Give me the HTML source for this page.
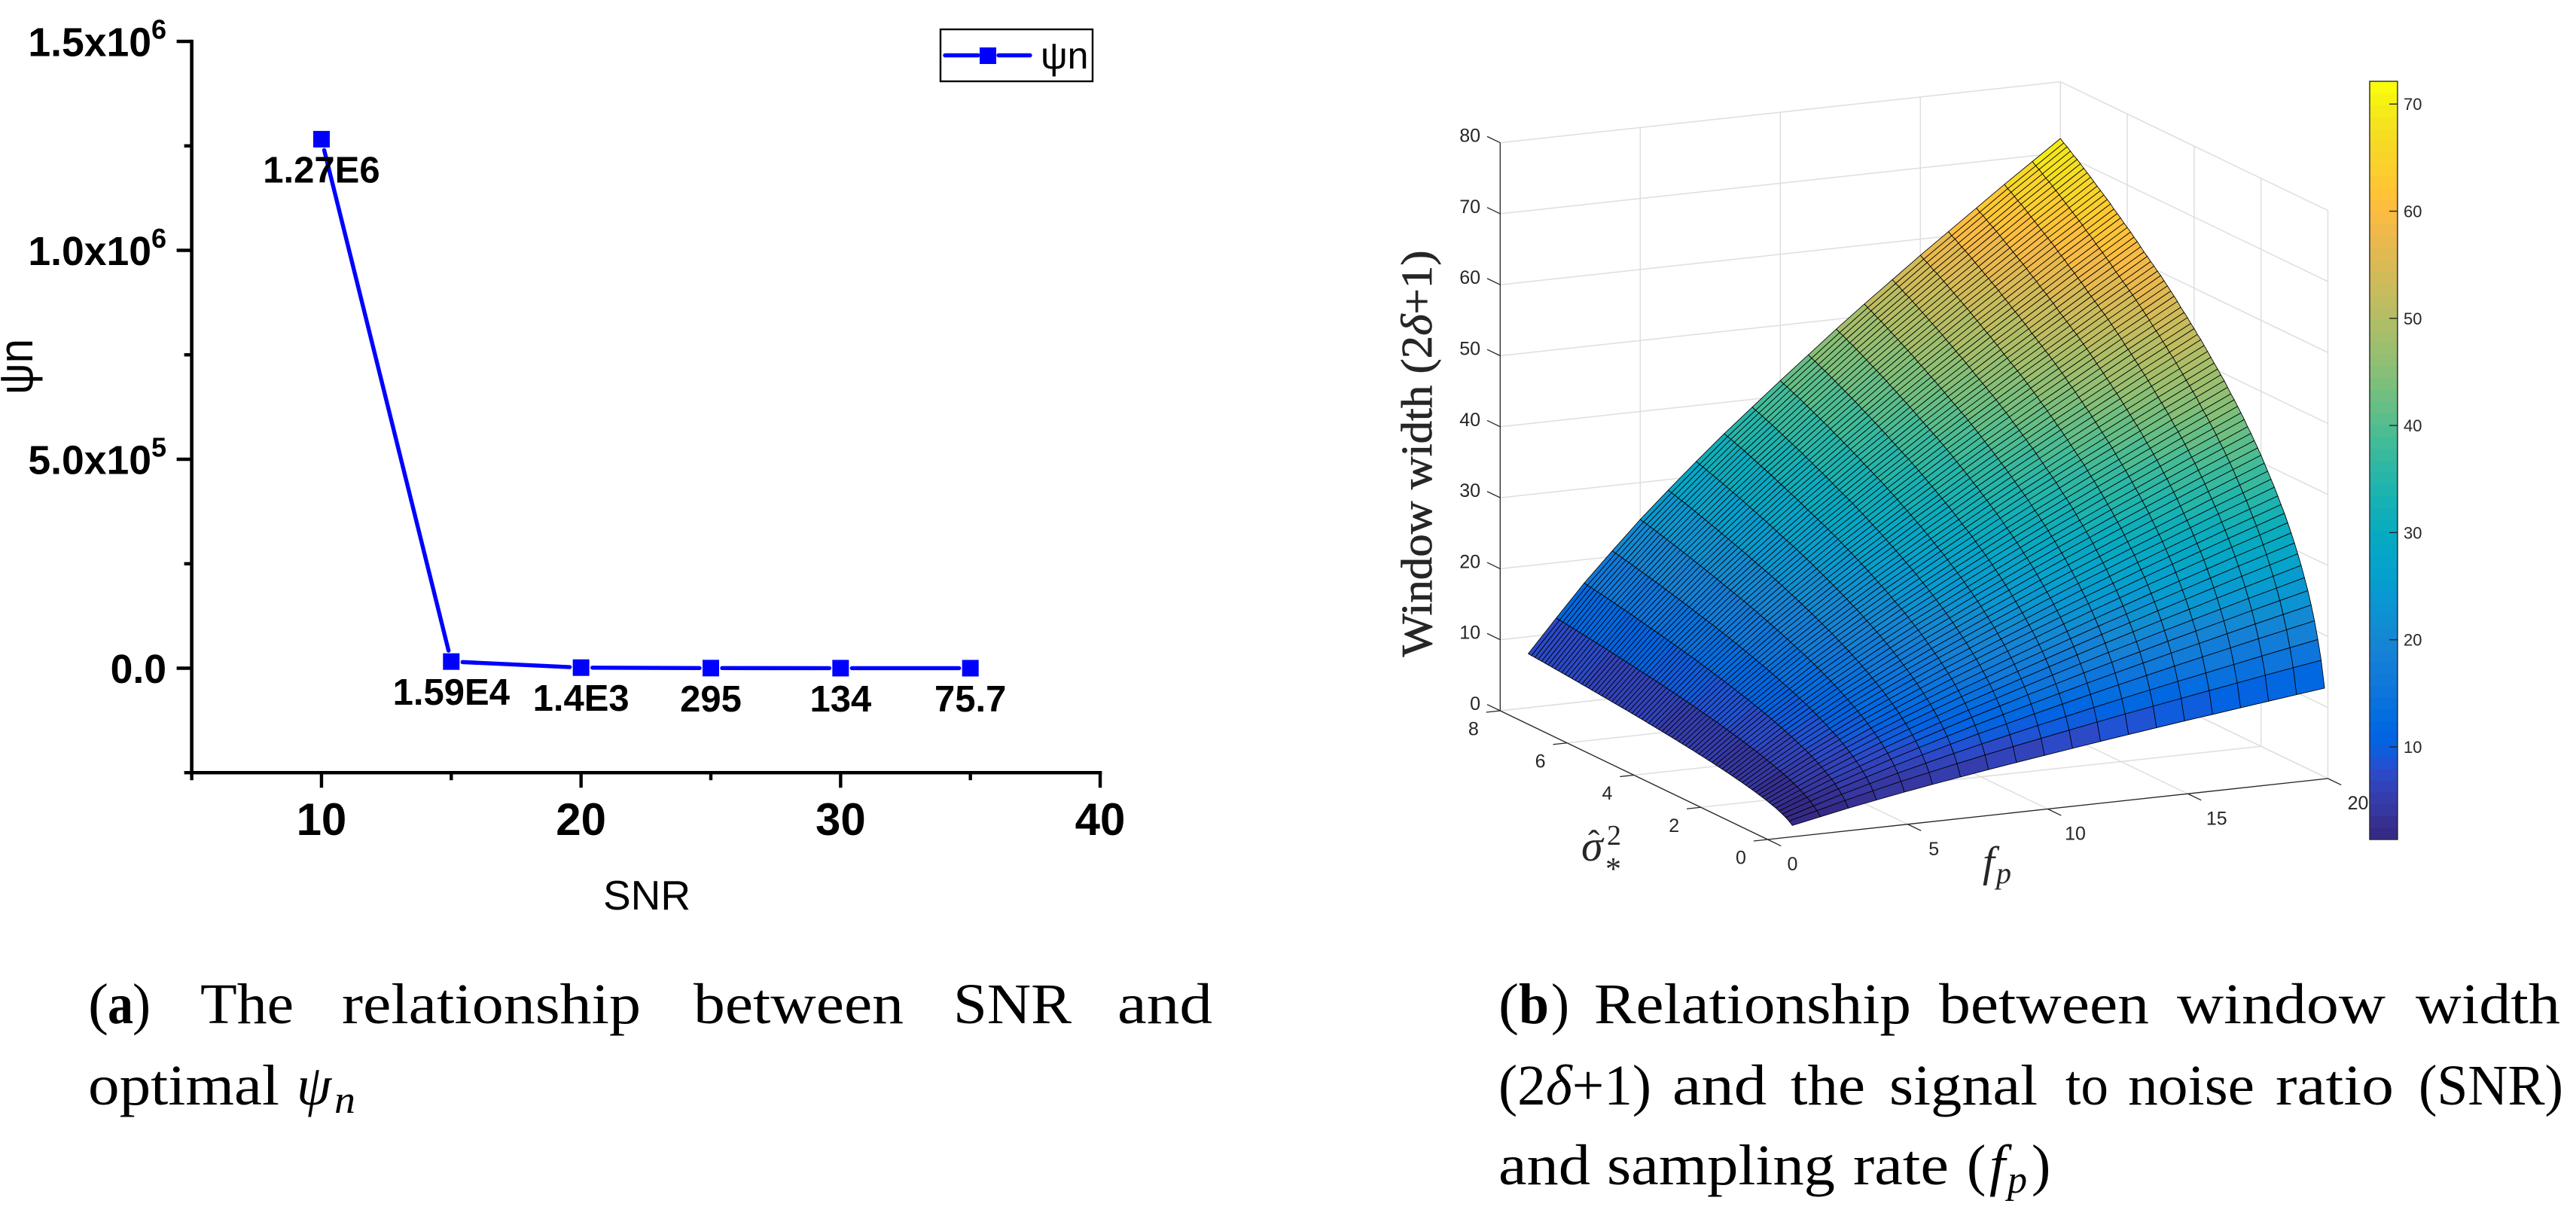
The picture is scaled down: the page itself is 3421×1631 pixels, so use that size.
<!DOCTYPE html>
<html lang="en">
<head>
<meta charset="utf-8">
<title>SNR and window width figures</title>
<style>
html,body{margin:0;padding:0;background:#fff;width:3421px;height:1631px;overflow:hidden}
svg{display:block}
.sans{font-family:"Liberation Sans",sans-serif}
.serif{font-family:"Liberation Serif",serif;font-size:76px;fill:#000}
</style>
</head>
<body>
<svg id="figure" xmlns="http://www.w3.org/2000/svg" width="3421" height="1631" viewBox="0 0 3421 1631">
<rect x="0" y="0" width="3421" height="1631" fill="#fff"/>
<g id="chartA"></g>
<g id="chartB"></g>

<g class="serif">
<text x="117" y="1359" textLength="27" lengthAdjust="spacingAndGlyphs">(</text>
<text x="143" y="1359" font-weight="bold" textLength="34" lengthAdjust="spacingAndGlyphs">a</text>
<text x="176" y="1359" textLength="24" lengthAdjust="spacingAndGlyphs">)</text>
<text x="266" y="1359" textLength="124" lengthAdjust="spacingAndGlyphs">The</text>
<text x="454" y="1359" textLength="397" lengthAdjust="spacingAndGlyphs">relationship</text>
<text x="921" y="1359" textLength="279" lengthAdjust="spacingAndGlyphs">between</text>
<text x="1266" y="1359" textLength="157" lengthAdjust="spacingAndGlyphs">SNR</text>
<text x="1484" y="1359" textLength="126" lengthAdjust="spacingAndGlyphs">and</text>
<text x="117" y="1467" textLength="254" lengthAdjust="spacingAndGlyphs">optimal</text>
<text x="394" y="1467" font-style="italic" textLength="46" lengthAdjust="spacingAndGlyphs">ψ</text>
<text x="444" y="1478" font-style="italic" font-size="52" textLength="28" lengthAdjust="spacingAndGlyphs">n</text>
</g>

<g class="serif">
<text x="1990" y="1359" textLength="27" lengthAdjust="spacingAndGlyphs">(</text>
<text x="2017" y="1359" font-weight="bold" textLength="40" lengthAdjust="spacingAndGlyphs">b</text>
<text x="2060" y="1359" textLength="24" lengthAdjust="spacingAndGlyphs">)</text>
<text x="2117" y="1359" textLength="421" lengthAdjust="spacingAndGlyphs">Relationship</text>
<text x="2575" y="1359" textLength="279" lengthAdjust="spacingAndGlyphs">between</text>
<text x="2891" y="1359" textLength="277" lengthAdjust="spacingAndGlyphs">window</text>
<text x="3208" y="1359" textLength="192" lengthAdjust="spacingAndGlyphs">width</text>
<text x="1990" y="1467" textLength="203" lengthAdjust="spacingAndGlyphs">(2<tspan font-style="italic">δ</tspan>+1)</text>
<text x="2221" y="1467" textLength="125" lengthAdjust="spacingAndGlyphs">and</text>
<text x="2378" y="1467" textLength="99" lengthAdjust="spacingAndGlyphs">the</text>
<text x="2509" y="1467" textLength="197" lengthAdjust="spacingAndGlyphs">signal</text>
<text x="2743" y="1467" textLength="57" lengthAdjust="spacingAndGlyphs">to</text>
<text x="2826" y="1467" textLength="168" lengthAdjust="spacingAndGlyphs">noise</text>
<text x="3022" y="1467" textLength="157" lengthAdjust="spacingAndGlyphs">ratio</text>
<text x="3212" y="1467" textLength="192" lengthAdjust="spacingAndGlyphs">(SNR)</text>
<text x="1990" y="1573" textLength="122" lengthAdjust="spacingAndGlyphs">and</text>
<text x="2134" y="1573" textLength="303" lengthAdjust="spacingAndGlyphs">sampling</text>
<text x="2461" y="1573" textLength="127" lengthAdjust="spacingAndGlyphs">rate</text>
<text x="2612" y="1573">(</text>
<text x="2642" y="1573" font-style="italic">f</text>
<text x="2666" y="1584" font-style="italic" font-size="52">p</text>
<text x="2698" y="1573">)</text>
</g>
</svg>

<script>
// ---------- Chart (a) data ----------
const snrValues = [10, 15, 20, 25, 30, 35];
const psiValues = [1266000, 15900, 1400, 295, 134, 75.7];
const psiLabels = ['1.27E6', '1.59E4', '1.4E3', '295', '134', '75.7'];
const xMajorTicks = [10, 20, 30, 40];
const xMinorTicks = [5, 15, 25, 35];
const yMajorTicks = [1500000, 1000000, 500000, 0];
const yMinorTicks = [1250000, 750000, 250000, -250000];
const yTickMantissas = ['1.5x10', '1.0x10', '5.0x10', '0.0'];
const yTickExponents = ['6', '6', '5', ''];

// ---------- Chart (b) data ----------
const fpValues = [1,2,3,4,5,6,7,8,9,10,11,12,13,14,15,16,17,18,19,20];
const sigmaValues = [0.1,0.2,0.3,0.4,0.5,0.6,0.7,0.8,0.9,1.0,1.1,1.2,1.3,1.4,1.5,1.6,1.7,1.8,1.9,2.0,
 2.1,2.2,2.3,2.4,2.5,2.6,2.7,2.8,2.9,3.0,3.1,3.2,3.3,3.4,3.5,3.6,3.7,3.8,3.9,4.0,
 4.1,4.2,4.3,4.4,4.5,4.6,4.7,4.8,4.9,5.0,5.1,5.2,5.3,5.4,5.5,5.6,5.7,5.8,5.9,6.0,
 6.1,6.2,6.3,6.4,6.5,6.6,6.7,6.8,6.9,7.0,7.1,7.2,7.3,7.4,7.5,7.6,7.7,7.8,7.9,8.0];
// window width read along the sigma = 8 edge of the surface, one per fp value
const widthAlongFp = [7.6,12.2,16.7,20.8,24.8,28.5,32.1,35.6,38.9,42.2,45.4,48.6,51.7,54.7,57.7,60.6,63.5,66.4,69.2,72.0];
// window width read along the fp = 20 edge of the surface, one per sigma value
const widthAlongSigma = [12.5,16.2,18.9,21.3,23.3,25.1,26.7,28.2,29.6,30.9,32.1,33.3,34.4,35.4,36.4,37.4,38.3,39.2,40.1,41.0,
 41.8,42.6,43.4,44.1,44.9,45.6,46.3,47.0,47.6,48.3,49.0,49.6,50.2,50.8,51.4,52.0,52.6,53.2,53.7,54.3,
 54.8,55.4,55.9,56.4,57.0,57.5,58.0,58.5,59.0,59.5,59.9,60.4,60.8,61.3,61.7,62.2,62.7,63.1,63.6,64.0,
 64.4,64.9,65.3,65.7,66.2,66.6,67.0,67.4,67.8,68.2,68.6,69.0,69.4,69.8,70.2,70.5,70.9,71.3,71.6,72.0];
const fpTicks = [0, 5, 10, 15, 20];
const sigmaTicks = [0, 2, 4, 6, 8];
const zTicks = [0, 10, 20, 30, 40, 50, 60, 70, 80];
const colorbarTicks = [10, 20, 30, 40, 50, 60, 70];
const colorMin = 1.4;
const colorMax = 72.1;
const parula = [
[.2081,.1663,.5292],[.2116,.1898,.5777],[.2123,.2138,.6270],[.2081,.2386,.6771],[.1959,.2645,.7279],[.1707,.2919,.7792],[.1253,.3242,.8303],[.0591,.3598,.8683],
[.0117,.3875,.8820],[.0060,.4086,.8828],[.0165,.4266,.8786],[.0329,.4430,.8720],[.0498,.4586,.8641],[.0629,.4737,.8554],[.0723,.4887,.8467],[.0779,.5040,.8384],
[.0793,.5200,.8312],[.0749,.5375,.8263],[.0641,.5570,.8240],[.0488,.5772,.8228],[.0343,.5966,.8199],[.0265,.6137,.8135],[.0239,.6287,.8038],[.0231,.6418,.7913],
[.0228,.6535,.7768],[.0267,.6642,.7607],[.0384,.6743,.7436],[.0590,.6838,.7254],[.0843,.6928,.7062],[.1133,.7015,.6859],[.1453,.7098,.6646],[.1801,.7177,.6424],
[.2178,.7250,.6193],[.2586,.7317,.5954],[.3022,.7376,.5712],[.3482,.7424,.5473],[.3953,.7459,.5244],[.4420,.7481,.5033],[.4871,.7491,.4840],[.5300,.7491,.4661],
[.5709,.7485,.4494],[.6099,.7473,.4337],[.6473,.7456,.4188],[.6834,.7435,.4044],[.7184,.7411,.3905],[.7525,.7384,.3768],[.7858,.7356,.3633],[.8185,.7327,.3498],
[.8507,.7299,.3360],[.8824,.7274,.3217],[.9139,.7258,.3063],[.9450,.7261,.2886],[.9739,.7314,.2666],[.9938,.7455,.2403],[.9990,.7653,.2164],[.9955,.7861,.1967],
[.9880,.8066,.1794],[.9789,.8271,.1633],[.9697,.8481,.1475],[.9626,.8705,.1309],[.9589,.8949,.1132],[.9598,.9218,.0948],[.9661,.9514,.0755],[.9763,.9831,.0538]];

const NS = 'http://www.w3.org/2000/svg';
function make(parent, tag, props, txt) {
  const n = document.createElementNS(NS, tag);
  for (const k in props) n.setAttribute(k, props[k]);
  if (txt !== undefined) n.textContent = txt;
  parent.appendChild(n);
  return n;
}

// ---------- Chart (a) drawing ----------
(function () {
  const root = document.getElementById('chartA');
  const xA = v => 254.6 + (v - 5) * 34.47;
  const yA = v => 887.5 - v * 0.000555;
  const xLeft = xA(5), xRight = xA(40), yBottom = yA(-250000), yTop = yA(1500000);

  let el = make(root, 'line', {x1: xLeft, y1: yTop - 2.3, x2: xLeft, y2: yBottom + 2.3, stroke: '#000', 'stroke-width': 4.6});
  
  
  el = make(root, 'line', {x1: xLeft - 2.3, y1: yBottom, x2: xRight + 2.3, y2: yBottom, stroke: '#000', 'stroke-width': 4.6});
  
  

  yMajorTicks.forEach((v, i) => {
    const t = make(root, 'line', {x1: xLeft, y1: yA(v), x2: xLeft - 20, y2: yA(v), stroke: '#000', 'stroke-width': 4.4});
    
    
    const lab = make(root, 'text', {x: 221, y: yA(v) + 19.5, 'text-anchor': 'end', class: 'sans', 'font-size': 53.5, 'font-weight': 'bold', fill: '#000'}, yTickMantissas[i]);
    
    
    if (yTickExponents[i]) {
      const sup = make(lab, 'tspan', {dy: -23, 'font-size': 36}, yTickExponents[i]);
      
      
    }
  });
  yMinorTicks.forEach(v => {
    const t = make(root, 'line', {x1: xLeft, y1: yA(v), x2: xLeft - 10, y2: yA(v), stroke: '#000', 'stroke-width': 4.4});
    
    
  });
  xMajorTicks.forEach(v => {
    const t = make(root, 'line', {x1: xA(v), y1: yBottom, x2: xA(v), y2: yBottom + 20, stroke: '#000', 'stroke-width': 4.4});
    
    
    const lab = make(root, 'text', {x: xA(v), y: 1109, 'text-anchor': 'middle', class: 'sans', 'font-size': 60, 'font-weight': 'bold', fill: '#000'}, String(v));
    
    
  });
  xMinorTicks.forEach(v => {
    const t = make(root, 'line', {x1: xA(v), y1: yBottom, x2: xA(v), y2: yBottom + 10, stroke: '#000', 'stroke-width': 4.4});
    
    
  });

  el = make(root, 'text', {x: 859, y: 1208, 'text-anchor': 'middle', class: 'sans', 'font-size': 55, fill: '#000'}, 'SNR');
  
  
  el = make(root, 'text', {x: 0, y: 0, transform: 'translate(43,487) rotate(-90)', 'text-anchor': 'middle', class: 'sans', 'font-size': 64, fill: '#000', textLength: 74, lengthAdjust: 'spacingAndGlyphs'}, 'ψn');
  
  

  // series segments, trimmed near each marker
  const gap = 15;
  for (let i = 0; i + 1 < snrValues.length; i++) {
    const x1 = xA(snrValues[i]), y1 = yA(psiValues[i]), x2 = xA(snrValues[i + 1]), y2 = yA(psiValues[i + 1]);
    const d = Math.hypot(x2 - x1, y2 - y1), ux = (x2 - x1) / d, uy = (y2 - y1) / d;
    const seg = make(root, 'line', {x1: x1 + ux * gap, y1: y1 + uy * gap, x2: x2 - ux * gap, y2: y2 - uy * gap, stroke: '#0000ff', 'stroke-width': 5.4, 'stroke-linecap': 'round'});
    
    
  }
  snrValues.forEach((s, i) => {
    const m = make(root, 'rect', {x: xA(s) - 11, y: yA(psiValues[i]) - 11, width: 22, height: 22, fill: '#0000ff'});
    
    
  });
  snrValues.forEach((s, i) => {
    const lab = make(root, 'text', {x: xA(s), y: yA(psiValues[i]) + 57.5, 'text-anchor': 'middle', class: 'sans', 'font-size': 49, 'font-weight': 'bold', fill: '#000'}, psiLabels[i]);
    
    
  });

  // legend
  const lg = make(root, 'g', {});
  
  
  el = make(lg, 'rect', {x: 1249, y: 39, width: 202, height: 69, fill: '#fff', stroke: '#000', 'stroke-width': 2.4});
  
  
  el = make(lg, 'line', {x1: 1255, y1: 73.5, x2: 1299, y2: 73.5, stroke: '#0000ff', 'stroke-width': 5.4, 'stroke-linecap': 'round'});
  
  
  el = make(lg, 'line', {x1: 1326, y1: 73.5, x2: 1368, y2: 73.5, stroke: '#0000ff', 'stroke-width': 5.4, 'stroke-linecap': 'round'});
  
  
  el = make(lg, 'rect', {x: 1301, y: 63, width: 22, height: 22, fill: '#0000ff'});
  
  
  el = make(lg, 'text', {x: 1382, y: 91, class: 'sans', 'font-size': 50, fill: '#000'}, 'ψn');
  
  
})();

// ---------- Chart (b) drawing ----------
(function () {
  const root = document.getElementById('chartB');
  const ink = '#262626', gridInk = '#dedede';
  // orthographic projection of (fp, sigma, z) to the page
  const px = (f, s) => 2347.5 + f * 37.2 - s * 44.4;
  const py = (f, s, z) => 1115 - f * 4.05 - s * 21.375 - z * 9.43;
  const fpMax = 20, sMax = 8, zMax = 80;

  function seg(a, b, color, w) {
    return make(root, 'line', {x1: px(a[0], a[1]), y1: py(a[0], a[1], a[2]), x2: px(b[0], b[1]), y2: py(b[0], b[1], b[2]), stroke: color, 'stroke-width': w});
  }

  zTicks.forEach(z => {
    let g = seg([0, sMax, z], [fpMax, sMax, z], gridInk, 1.5);
    
    
    g = seg([fpMax, sMax, z], [fpMax, 0, z], gridInk, 1.5);
    
    
  });
  fpTicks.forEach(f => {
    let g = seg([f, sMax, 0], [f, sMax, zMax], gridInk, 1.5);
    
    
    g = seg([f, 0, 0], [f, sMax, 0], gridInk, 1.5);
    
    
  });
  sigmaTicks.forEach(s => {
    let g = seg([fpMax, s, 0], [fpMax, s, zMax], gridInk, 1.5);
    
    
    g = seg([0, s, 0], [fpMax, s, 0], gridInk, 1.5);
    
    
  });

  // axes
  let a = seg([0, 0, 0], [fpMax, 0, 0], ink, 1.3);
  
  
  a = seg([0, 0, 0], [0, sMax, 0], ink, 1.3);
  
  
  a = seg([0, sMax, 0], [0, sMax, zMax], ink, 1.3);
  
  

  const tickFont = {class: 'sans', 'font-size': 25, fill: ink};
  zTicks.forEach(z => {
    const t = seg([0, sMax, z], [0, sMax + 0.39, z], ink, 1.3);
    
    
    const lab = make(root, 'text', Object.assign({x: 1966, y: py(0, sMax, z) - 1, 'text-anchor': 'end'}, tickFont), String(z));
    
    
  });
  sigmaTicks.forEach(s => {
    const t = seg([0, s, 0], [-0.5, s, 0], ink, 1.3);
    
    
    const lab = make(root, 'text', Object.assign({x: px(0, s) - 35.5, y: py(0, s, 0) + 32.5, 'text-anchor': 'middle'}, tickFont), String(s));
    
    
  });
  fpTicks.forEach(f => {
    const t = seg([f, 0, 0], [f, -0.4, 0], ink, 1.3);
    
    
    const lab = make(root, 'text', Object.assign({x: px(f, 0) + 33 + f * 0.35, y: py(f, 0, 0) + 41, 'text-anchor': 'middle'}, tickFont), String(f));
    
    
  });

  // surface, painted from far to near
  const peak = widthAlongFp[widthAlongFp.length - 1];
  const zAt = (i, j) => widthAlongFp[i] * widthAlongSigma[j] / peak;
  const colorFor = z => {
    const k = Math.max(0, Math.min(parula.length - 1, Math.floor((z - colorMin) / (colorMax - colorMin) * parula.length)));
    const c = parula[k];
    return 'rgb(' + Math.round(c[0] * 255) + ',' + Math.round(c[1] * 255) + ',' + Math.round(c[2] * 255) + ')';
  };
  const surface = make(root, 'g', {stroke: '#000', 'stroke-width': 0.85, 'stroke-linejoin': 'round'});
  
  
  for (let i = fpValues.length - 2; i >= 0; i--) {
    for (let j = sigmaValues.length - 2; j >= 0; j--) {
      const corners = [[i, j], [i + 1, j], [i + 1, j + 1], [i, j + 1]];
      const pts = corners.map(c => {
        const f = fpValues[c[0]], s = sigmaValues[c[1]];
        return px(f, s).toFixed(1) + ',' + py(f, s, zAt(c[0], c[1])).toFixed(1);
      }).join(' ');
      const cell = make(surface, 'polygon', {points: pts, fill: colorFor(zAt(i, j))});
      
      
    }
  }

  // axis titles
  let t = make(root, 'text', {x: 0, y: 0, transform: 'translate(1901,602.5) rotate(-90)', 'text-anchor': 'middle', 'font-family': '"Liberation Serif",serif', 'font-size': 58, fill: ink, stroke: ink, 'stroke-width': 0.7, textLength: 540, lengthAdjust: 'spacingAndGlyphs'});
  
  
  t.appendChild(document.createTextNode('Window width (2'));
  const delta = make(t, 'tspan', {'font-style': 'italic'}, 'δ');
  
  
  t.appendChild(document.createTextNode('+1)'));

  const serif = {'font-family': '"Liberation Serif",serif', fill: ink};
  t = make(root, 'text', Object.assign({x: 2100, y: 1143, 'font-style': 'italic', 'font-size': 58}, serif), 'σ');
  
  
  t = make(root, 'text', Object.assign({x: 2109, y: 1134, 'font-size': 46}, serif), 'ˆ');
  
  
  t = make(root, 'text', Object.assign({x: 2134, y: 1122, 'font-size': 38}, serif), '2');
  
  
  t = make(root, 'text', Object.assign({x: 2132, y: 1168, 'font-size': 42}, serif), '*');
  
  
  t = make(root, 'text', Object.assign({x: 2633, y: 1164, 'font-style': 'italic', 'font-size': 57}, serif), 'f');
  
  
  t = make(root, 'text', Object.assign({x: 2651, y: 1173, 'font-style': 'italic', 'font-size': 40}, serif), 'p');
  
  

  // colorbar
  const cbLeft = 3147, cbRight = 3184, cbTop = 108, cbBottom = 1115;
  const yC = v => 992 - (v - 10) * 14.23;
  const cb = make(root, 'g', {});
  
  
  const stepH = (cbBottom - cbTop) / parula.length;
  parula.forEach((c, k) => {
    const r = make(cb, 'rect', {x: cbLeft, y: cbBottom - (k + 1) * stepH, width: cbRight - cbLeft, height: stepH + 0.5, fill: 'rgb(' + Math.round(c[0] * 255) + ',' + Math.round(c[1] * 255) + ',' + Math.round(c[2] * 255) + ')'});
    
    
  });
  const frame = make(cb, 'rect', {x: cbLeft, y: cbTop, width: cbRight - cbLeft, height: cbBottom - cbTop, fill: 'none', stroke: ink, 'stroke-width': 1.4});
  
  
  colorbarTicks.forEach(v => {
    const tk = make(cb, 'line', {x1: cbRight - 11, y1: yC(v), x2: cbRight, y2: yC(v), stroke: ink, 'stroke-width': 1.4});
    
    
    const lab = make(cb, 'text', {x: 3192, y: yC(v) + 8, class: 'sans', 'font-size': 22, fill: ink}, String(v));
    
    
  });
})();
</script>
</body>
</html>
